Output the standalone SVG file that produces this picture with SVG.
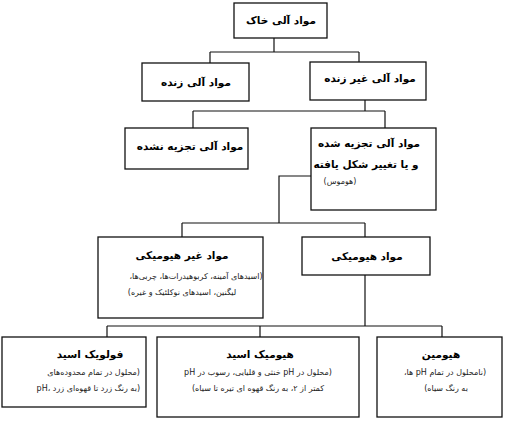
<svg xmlns="http://www.w3.org/2000/svg" width="508" height="423" viewBox="0 0 508 423">
<style>
.box{fill:#fff;stroke:#111;stroke-width:1.3}
.c{fill:none;stroke:#111;stroke-width:1.2}
text{font-family:"DejaVu Sans",sans-serif;fill:#000;text-anchor:middle}
.t{font-size:10.5px;font-weight:bold}
.s{font-size:8px;fill:#222}
.r{text-anchor:end}
</style>
<rect width="508" height="423" fill="#fff"/>
<g id="connectors">
<path class="c" d="M274,38V52M210,52H359M210,52V63M359,52V62"/>
<path class="c" d="M365,100V111M193,111H385M193,111V128M385,111V128"/>
<path class="c" d="M311,176H279V223M182,223H365M182,223V237M365,223V237"/>
<path class="c" d="M365,275V326M107,326H442M107,326V337M260,326V337M442,326V337"/>
</g>
<g id="soil-organic-matter">
<rect class="box" x="234" y="3" width="93" height="35"/>
<text class="t" x="281" y="24">مواد آلی خاک</text>
</g>
<g id="living">
<rect class="box" x="142" y="63" width="107" height="38"/>
<text class="t" x="196" y="86">مواد آلی زنده</text>
</g>
<g id="non-living">
<rect class="box" x="310" y="62" width="116" height="38"/>
<text class="t" x="370" y="82">مواد آلی غیر زنده</text>
</g>
<g id="undecomposed">
<rect class="box" x="125" y="128" width="123" height="41"/>
<text class="t" x="190" y="150">مواد آلی تجزیه نشده</text>
</g>
<g id="humus">
<rect class="box" x="311" y="128" width="125" height="82"/>
<text class="t" x="369" y="147">مواد آلی تجزیه شده</text>
<text class="t" x="366" y="168">و یا تغییر شکل یافته</text>
<text class="s" x="340" y="184">&#8235;(هوموس)&#8236;</text>
</g>
<g id="non-humic">
<rect class="box" x="98" y="237" width="165" height="81"/>
<text class="t" x="182" y="259">مواد غیر هیومیکی</text>
<text class="s" x="196" y="279">&#8235;(اسیدهای آمینه، کربوهیدرات&#8204;ها، چربی&#8204;ها،&#8236;</text>
<text class="s" x="182" y="295">&#8235;لیگنین، اسیدهای نوکلئیک و غیره)&#8236;</text>
</g>
<g id="humic">
<rect class="box" x="302" y="237" width="128" height="38"/>
<text class="t" x="367" y="260">مواد هیومیکی</text>
</g>
<g id="fulvic">
<rect class="box" x="2" y="337" width="144" height="70"/>
<text class="t" x="90" y="358">فولویک اسید</text>
<text class="s r" x="140" y="375">&#8235;(محلول در تمام محدوده&#8204;های&#8236;</text>
<text class="s r" x="140" y="391">pH، به رنگ زرد تا قهوه&#8204;ای زرد)</text>
</g>
<g id="humic-acid">
<rect class="box" x="157" y="337" width="202" height="80"/>
<text class="t" x="260" y="358">هیومیک اسید</text>
<text class="s" x="258" y="375">&#8235;(محلول در pH خنثی و قلیایی، رسوب در pH&#8236;</text>
<text class="s" x="258" y="391">&#8235;کمتر از ۲، به رنگ قهوه ای تیره تا سیاه)&#8236;</text>
</g>
<g id="humin">
<rect class="box" x="377" y="337" width="125" height="80"/>
<text class="t" x="441" y="358">هیومین</text>
<text class="s" x="445" y="375">&#8235;(نامحلول در تمام pH ها،&#8236;</text>
<text class="s" x="446" y="391">&#8235;به رنگ سیاه)&#8236;</text>
</g>
</svg>
